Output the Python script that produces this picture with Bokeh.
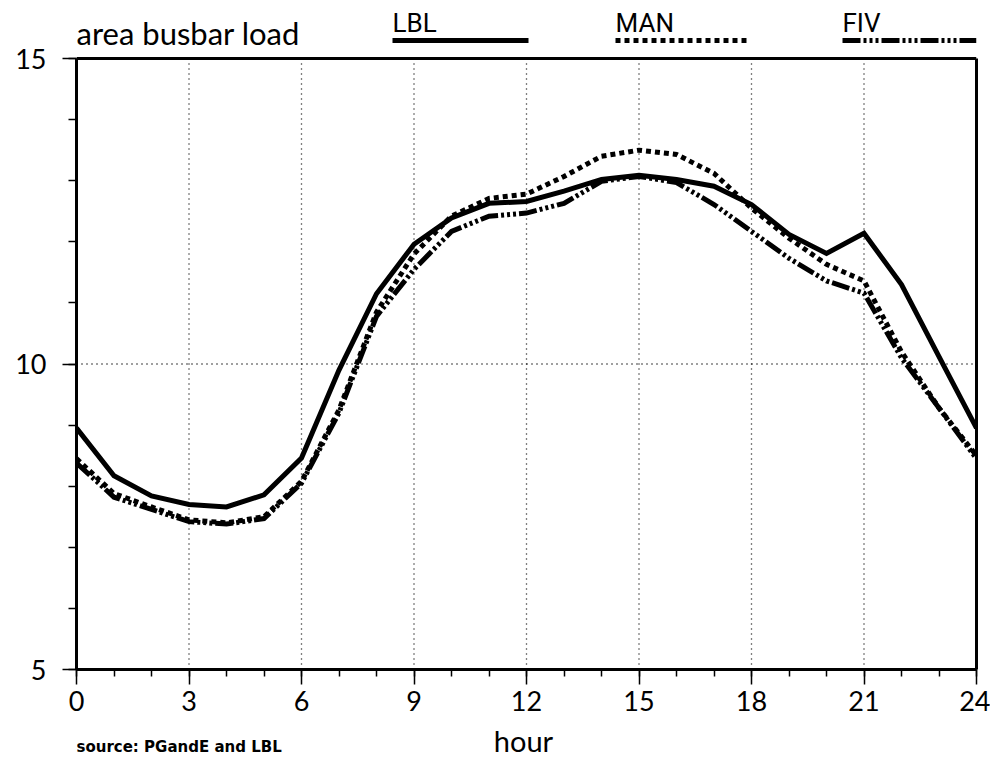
from bokeh.plotting import figure
from bokeh.layouts import column
from bokeh.models import Range1d, FixedTicker, LinearAxis
from bokeh.core.properties import value
from bokeh.embed import file_html
from bokeh.resources import INLINE

# ---- data ----
hours = list(range(25))
lbl = [8.95, 8.17, 7.84, 7.70, 7.66, 7.86, 8.46, 9.90, 11.15, 11.96, 12.39, 12.63, 12.66,
       12.83, 13.02, 13.09, 13.02, 12.91, 12.61, 12.12, 11.81, 12.14, 11.30, 10.12, 8.95]
man = [8.45, 7.88, 7.66, 7.45, 7.40, 7.50, 8.08, 9.25, 10.85, 11.80, 12.42, 12.71, 12.78,
       13.07, 13.40, 13.50, 13.43, 13.12, 12.55, 12.06, 11.63, 11.36, 10.20, 9.28, 8.50]
fiv = [8.38, 7.82, 7.62, 7.42, 7.38, 7.47, 8.05, 9.20, 10.78, 11.55, 12.17, 12.42, 12.47,
       12.63, 12.99, 13.07, 12.97, 12.61, 12.17, 11.73, 11.36, 11.16, 10.10, 9.28, 8.45]
series_names = ["LBL", "MAN", "FIV"]
x_ticks = list(range(0, 25, 3))
y_ticks = [5, 10, 15]
title_text = "area busbar load"
x_label = "hour"
source_text = "source: PGandE and LBL"

FONT = value("Lato")
LEG_FONT = value("Roboto")
dashes = {"LBL": "solid", "MAN": "5 4", "FIV": "18 3 3 3 3 3 3 3"}
values = {"LBL": lbl, "MAN": man, "FIV": fiv}

# ---- layout geometry (pixels) ----
W, H = 990, 761
LEFT, RIGHT = 76, 976          # frame left/right in page pixels
Y15, Y5 = 58, 669              # page rows of y=15 and y=5
BOTTOM = 53                    # room for x tick marks and labels
MAIN_H = Y5 + BOTTOM
FOOT_H = H - MAIN_H
X0, X1 = 0, 24
YMIN, YMAX = 5, 15
px_per_x = (RIGHT - LEFT) / (X1 - X0)
px_per_y = (Y5 - Y15) / (YMAX - YMIN)
Y_TOP = YMAX + Y15 / px_per_y  # data value at the very top of the frame


def dx(px):
    return X0 + (px - LEFT) / px_per_x


def dy(py):
    return YMAX + (Y15 - py) / px_per_y


p = figure(width=W, height=MAIN_H, output_backend="svg", toolbar_location=None,
           x_range=Range1d(X0, X1), y_range=Range1d(YMIN, Y_TOP),
           min_border_left=LEFT, min_border_right=W - RIGHT,
           min_border_top=0, min_border_bottom=BOTTOM)
p.outline_line_color = None
p.background_fill_color = "white"
p.border_fill_color = "white"
p.grid.visible = False

# axes
p.xaxis.ticker = FixedTicker(ticks=x_ticks, minor_ticks=hours)
p.yaxis.ticker = FixedTicker(ticks=y_ticks, minor_ticks=list(range(YMIN, YMAX + 1)))
p.yaxis.bounds = (YMIN, YMAX)
for ax in (p.xaxis, p.yaxis):
    ax.axis_line_color = "black"
    ax.axis_line_width = 3
    ax.major_tick_line_color = "black"
    ax.minor_tick_line_color = "black"
    ax.major_tick_line_width = 1.5
    ax.minor_tick_line_width = 1.5
    ax.major_tick_in = 0
    ax.minor_tick_in = 0
    ax.major_label_text_font = "Lato"
    ax.major_label_text_font_size = "27px"
    ax.major_label_text_color = "black"
p.xaxis.major_tick_out = 15
p.xaxis.minor_tick_out = 7
p.xaxis.major_label_standoff = 6
p.yaxis.major_tick_out = 14
p.yaxis.minor_tick_out = 8
p.yaxis.major_label_standoff = 16

right_axis = LinearAxis(bounds=(YMIN, YMAX), axis_line_width=3, axis_line_color="black",
                        major_tick_out=0, minor_tick_out=0, major_tick_in=0, minor_tick_in=0,
                        major_label_text_font_size="0px",
                        ticker=FixedTicker(ticks=[]))
p.add_layout(right_axis, "right")

# frame top edge
p.segment(x0=[X0], y0=[YMAX], x1=[X1], y1=[YMAX], line_color="black", line_width=3)

# dotted grid (only inside the 5..15 box)
gx = [t for t in x_ticks if X0 < t < X1]
p.segment(x0=gx, y0=[YMIN] * len(gx), x1=gx, y1=[YMAX] * len(gx),
          line_color="black", line_dash="1 4", line_width=1.3)
p.segment(x0=[X0], y0=[10], x1=[X1], y1=[10],
          line_color="black", line_dash="1 4", line_width=1.3)

# data lines
for name in series_names:
    p.line(x=hours, y=values[name], line_width=5, line_color="black",
           line_dash=dashes[name], line_cap="butt", line_join="miter")

# header: title and legend
p.text(x=[dx(76)], y=[dy(32)], text=[title_text], text_font=FONT, text_font_size="31px",
       text_color="black", text_baseline="middle", text_align="left")
leg_px = {"LBL": (392, 528), "MAN": (615, 749), "FIV": (842, 976)}
for name in series_names:
    a, b = leg_px[name]
    p.text(x=[dx(a)], y=[dy(22)], text=[name], text_font=LEG_FONT, text_font_size="26px",
           text_color="black", text_baseline="middle", text_align="left")
    p.line(x=[dx(a), dx(b)], y=[dy(40), dy(40)], line_width=5, line_color="black",
           line_dash=dashes[name], line_cap="butt")

# ---- footer: axis title and source note ----
foot = figure(width=W, height=FOOT_H, output_backend="svg", toolbar_location=None,
              x_range=Range1d(LEFT, RIGHT), y_range=Range1d(0, FOOT_H),
              x_axis_location=None, y_axis_location=None,
              min_border_left=LEFT, min_border_right=W - RIGHT,
              min_border_top=0, min_border_bottom=0)
foot.outline_line_color = None
foot.grid.visible = False
foot.text(x=[523], y=[FOOT_H], text=[x_label], text_font=FONT, text_font_size="29px",
          text_color="black", text_baseline="top", text_align="center")
foot.text(x=[76], y=[FOOT_H - (746 - MAIN_H)], text=[source_text],
          text_font=value("DejaVu Sans"), text_font_size="15px", text_font_style="bold",
          text_color="black", text_baseline="middle", text_align="left")

layout = column(p, foot, spacing=0)
open("out.html", "w").write(file_html(layout, INLINE))
